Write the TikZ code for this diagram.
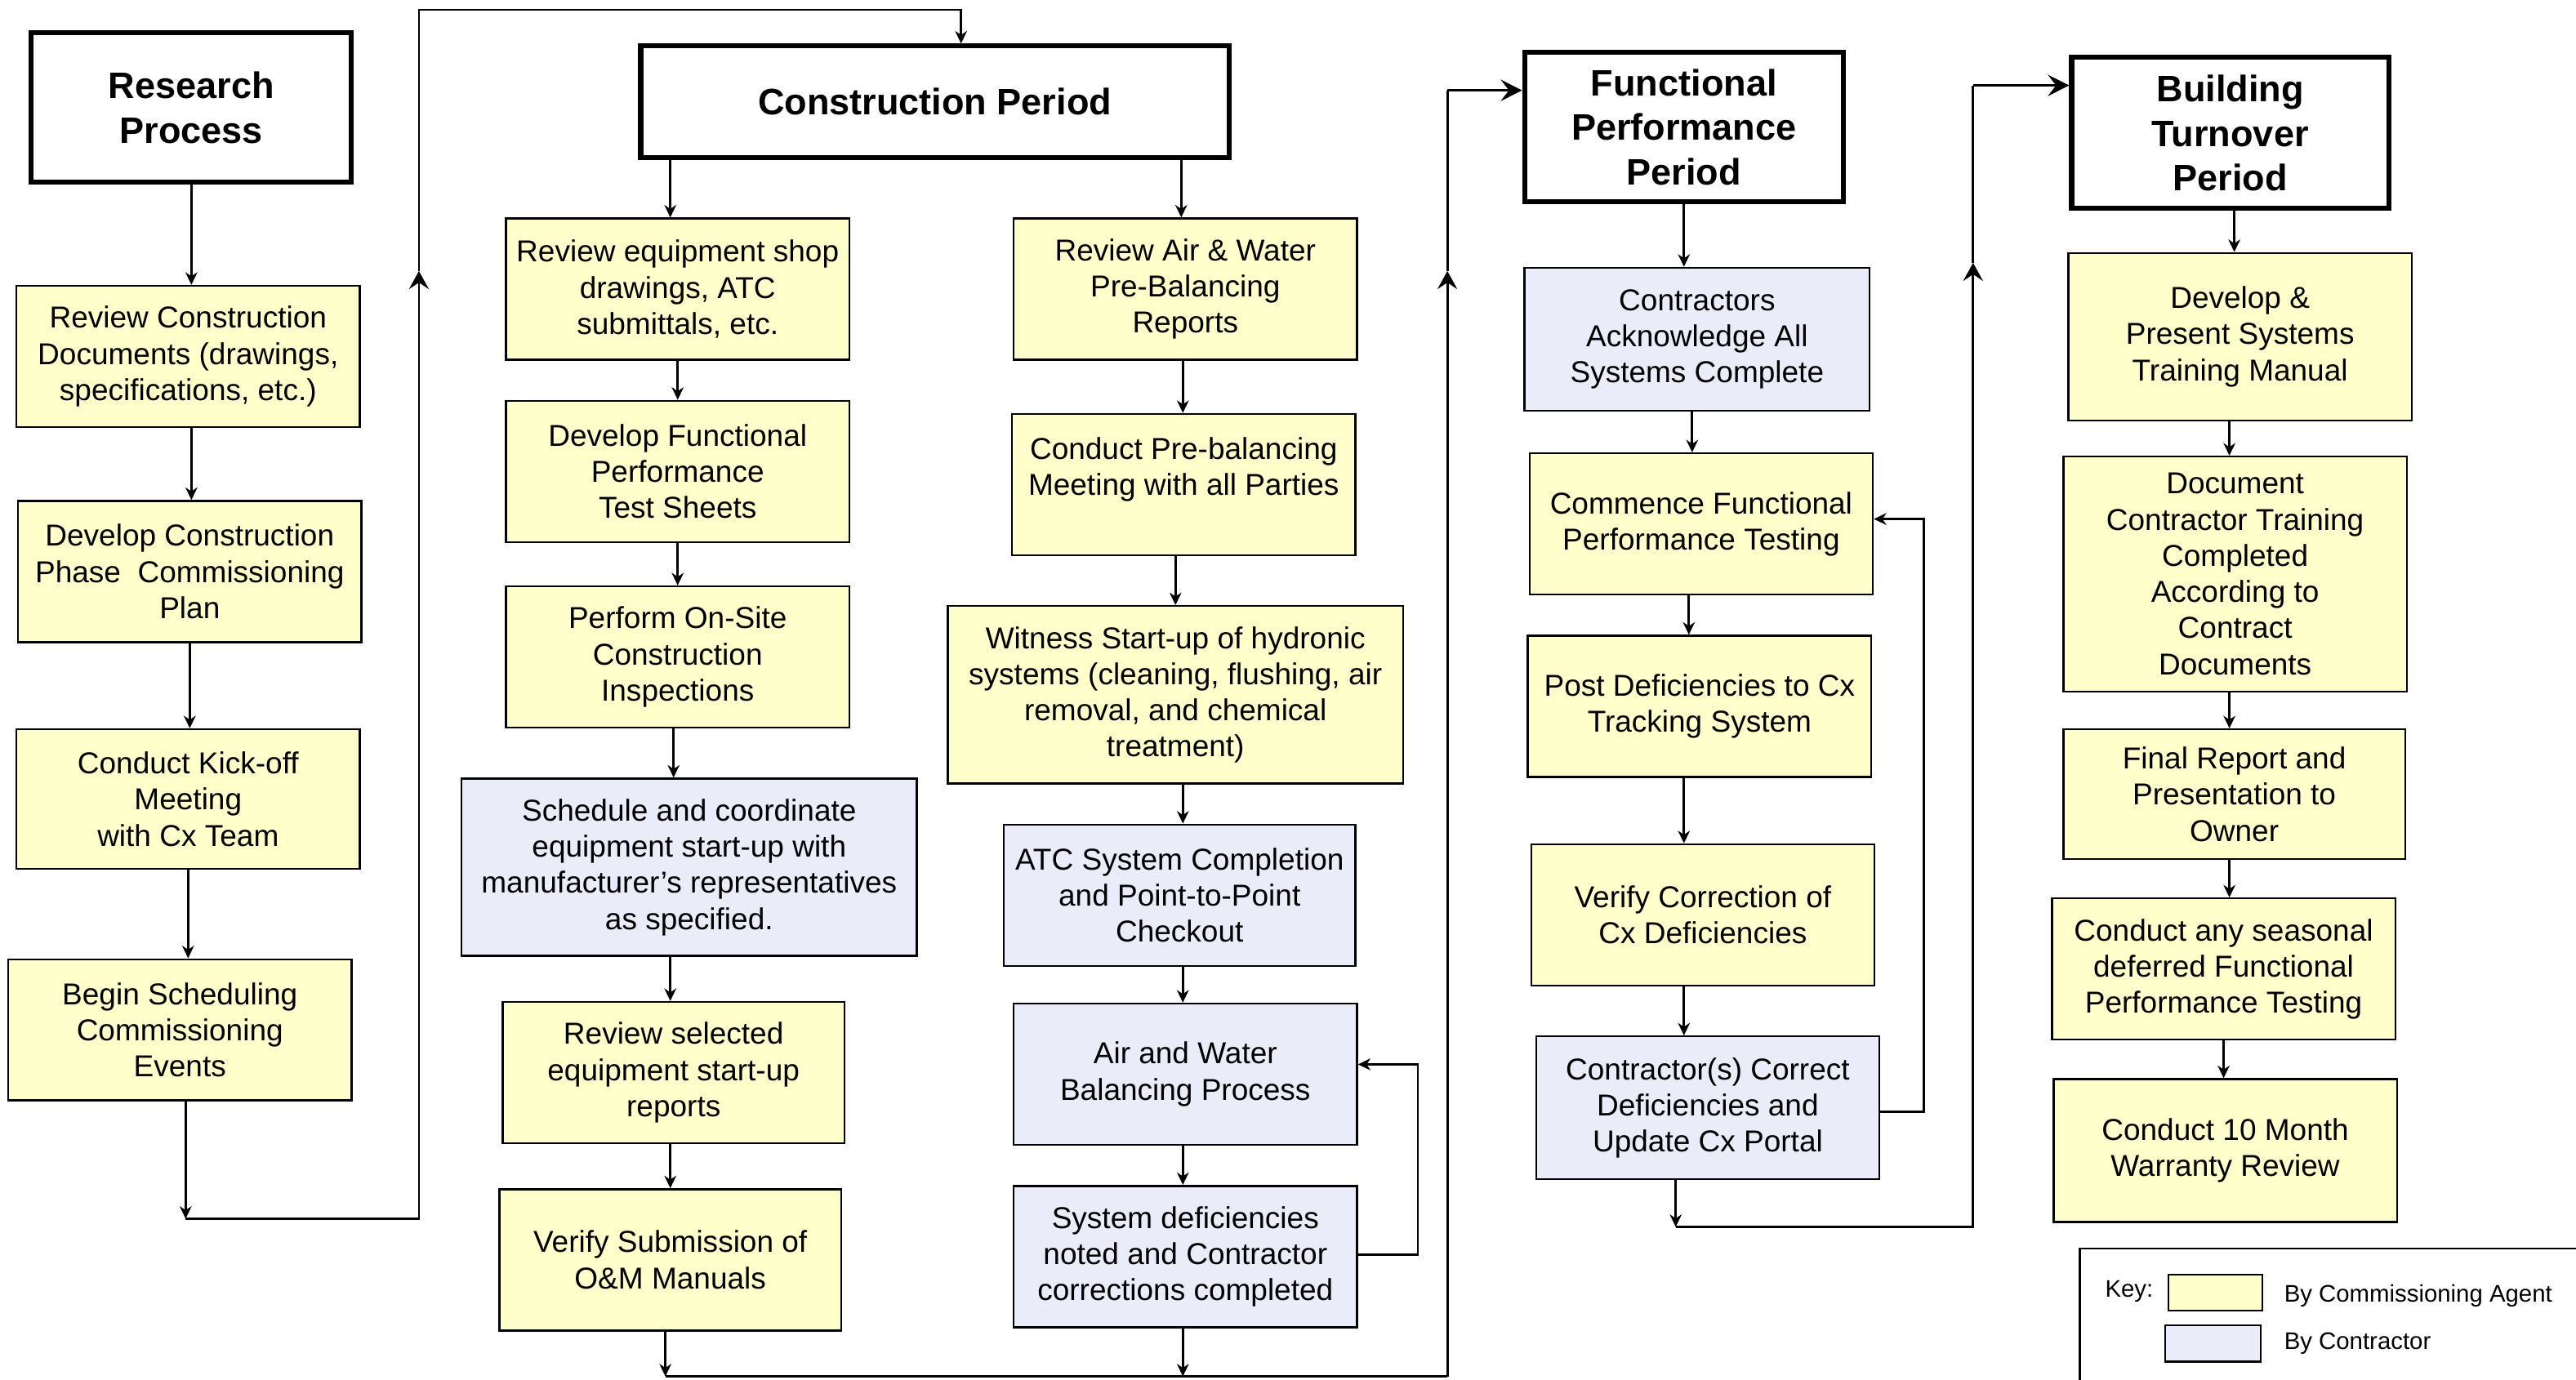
\documentclass[tikz,border=0pt]{standalone}
\usepackage{fontspec}
\setmainfont{Liberation Sans}
\usetikzlibrary{arrows.meta,calc}
\definecolor{cxy}{RGB}{255,255,204}
\definecolor{cxb}{RGB}{234,236,250}
\begin{document}
\begin{tikzpicture}[x=0.5pt,y=-0.5pt,
 base/.style={draw=black, line width=0.6pt, inner sep=0pt, align=center, font=\fontsize{9.2pt}{11pt}\selectfont},
 ca/.style={base, fill=cxy},
 co/.style={base, fill=cxb},
 hdr/.style={draw=black, line width=1.5pt, fill=white, inner sep=0pt, align=center, font=\fontsize{11.2pt}{13.5pt}\selectfont\bfseries},
 sz/.style 2 args={minimum width=#1*0.5pt, minimum height=#2*0.5pt},
 link/.style={line width=0.7pt},
 arr/.style={link, -{Stealth[length=3.8pt,width=3.6pt,inset=1.2pt]}},
 bigarr/.style={link, -{Stealth[length=5.5pt,width=6pt,inset=2pt]}},
 entarr/.style={line width=0.9pt, -{Stealth[length=6.5pt,width=6.5pt,inset=2.5pt]}},
 keytxt/.style={inner sep=0pt, anchor=west, font=\fontsize{7.3pt}{9pt}\selectfont},
]
\useasboundingbox (0,0) rectangle (1568,840);

% headers
\node[hdr, sz={195}{91}] (RP) at (116.5,65.5) {Research\\Process};
\node[hdr, sz={358}{68}] (CP) at (569,62) {Construction Period};
\node[hdr, sz={194}{91}] (FP) at (1025,77.5) {Functional\\Performance\\Period};
\node[hdr, sz={193}{92}] (BT) at (1357.5,81) {Building\\Turnover\\Period};

% research column
\node[ca, sz={209}{86}] (R1) at (114.5,217) {Review Construction\\Documents (drawings,\\specifications, etc.)};
\node[ca, sz={209}{86}] (R2) at (115.5,348) {Develop Construction\\Phase\ \ Commissioning\\Plan};
\node[ca, sz={209}{85}] (R3) at (114.5,486.5) {Conduct Kick-off\\Meeting\\with Cx Team};
\node[ca, sz={209}{86}] (R4) at (109.5,627) {Begin Scheduling\\Commissioning\\Events};

% construction left
\node[ca, sz={209}{86}] (CL1) at (412.5,176) {Review equipment shop\\drawings, ATC\\submittals, etc.};
\node[ca, sz={209}{86}] (CL2) at (412.5,287) {Develop Functional\\Performance\\Test Sheets};
\node[ca, sz={209}{86}] (CL3) at (412.5,400) {Perform On-Site\\Construction\\Inspections};
\node[co, sz={277}{108}] (CL4) at (419.5,528) {Schedule and coordinate\\equipment start-up with\\manufacturer’s representatives\\as specified.};
\node[ca, sz={208}{86}] (CL5) at (410,653) {Review selected\\equipment start-up\\reports};
\node[ca, sz={208}{86}] (CL6) at (408,767) {Verify Submission of\\O\&M Manuals};

% construction right
\node[ca, sz={209}{86}] (CR1) at (721.5,176) {Review Air \& Water\\Pre-Balancing\\Reports};
\node[ca, sz={209}{86}] (CR2) at (720.5,295) {Conduct Pre-balancing\\Meeting with all Parties\\\mbox{}};
\node[ca, sz={277}{108}] (CR3) at (715.5,423) {Witness Start-up of hydronic\\systems (cleaning, flushing, air\\removal, and chemical\\treatment)};
\node[co, sz={214}{86}] (CR4) at (718,545) {ATC System Completion\\and Point-to-Point\\Checkout};
\node[co, sz={209}{86}] (CR5) at (721.5,654) {Air and Water\\Balancing Process};
\node[co, sz={209}{86}] (CR6) at (721.5,765) {System deficiencies\\noted and Contractor\\corrections completed};

% functional performance
\node[co, sz={210}{87}] (F1) at (1033,206.5) {Contractors\\Acknowledge All\\Systems Complete};
\node[ca, sz={209}{86}] (F2) at (1035.5,319) {Commence Functional\\Performance Testing};
\node[ca, sz={209}{86}] (F3) at (1034.5,430) {Post Deficiencies to Cx\\Tracking System};
\node[ca, sz={209}{86}] (F4) at (1036.5,557) {Verify Correction of\\Cx Deficiencies};
\node[co, sz={209}{87}] (F5) at (1039.5,674.5) {Contractor(s) Correct\\Deficiencies and\\Update Cx Portal};

% building turnover
\node[ca, sz={209}{102}] (B1) at (1363.5,205) {Develop \&\\Present Systems\\Training Manual};
\node[ca, sz={209}{143}] (B2) at (1360.5,349.5) {Document\\Contractor Training\\Completed\\According to\\Contract\\Documents};
\node[ca, sz={208}{79}] (B3) at (1360,483.5) {Final Report and\\Presentation to\\Owner};
\node[ca, sz={209}{86}] (B4) at (1353.5,590) {Conduct any seasonal\\deferred Functional\\Performance Testing};
\node[ca, sz={209}{87}] (B5) at (1354.5,700.5) {Conduct 10 Month\\Warranty Review};

% key
\draw[line width=0.6pt] (1580,760) -- (1266,760) -- (1266,850);
\node[keytxt] (keyl) at (1281,786) {Key:};
\node[base, fill=cxy, sz={57}{22}] (ky) at (1348.5,787) {};
\node[base, fill=cxb, sz={58}{22}] (kb) at (1347,818) {};
\node[keytxt] (kyt) at (1390,789) {By Commissioning Agent};
\node[keytxt] (kbt) at (1390,818) {By Contractor};

% research column connectors
\draw[arr] (RP.south) -- (RP.south |- R1.north);
\draw[arr] ([xshift=1pt]R1.south) -- ([xshift=1pt]R1.south |- R2.north);
\draw[arr] (R2.south) -- (R2.south |- R3.north);
\draw[arr] (R3.south) -- (R3.south |- R4.north);
\coordinate (j1) at (113,742);
\coordinate (j2) at (255,742);
\coordinate (j3) at (255,165);
\coordinate (j4) at (255,6);
\coordinate (j5) at (585,6);
\draw[arr] (R4.south -| j1) -- (j1);
\draw[bigarr] (j1) -- (j2) -- (j3);
\draw[arr] (j3) -- (j4) -- (j5) -- (j5 |- CP.north);

% construction connectors
\draw[arr] ([xshift=-2.25pt]CL1.north |- CP.south) -- ([xshift=-2.25pt]CL1.north);
\draw[arr] (CL1.south) -- (CL1.south |- CL2.north);
\draw[arr] (CL2.south) -- (CL2.south |- CL3.north);
\draw[arr] ([xshift=-1.25pt]CL3.south) -- ([xshift=-1.25pt]CL3.south |- CL4.north);
\draw[arr] ([xshift=-1pt]CL5.north |- CL4.south) -- ([xshift=-1pt]CL5.north);
\draw[arr] ([xshift=-1pt]CL5.south) -- ([xshift=-1pt]CL5.south |- CL6.north);
\coordinate (b1) at (405,838);
\coordinate (b2) at (720,838);
\coordinate (b3) at (881,838);
\coordinate (b4) at (881,165);
\coordinate (b5) at (881,55);
\draw[arr] (CL6.south -| b1) -- (b1);

\draw[arr] ([xshift=-1.25pt]CR1.north |- CP.south) -- ([xshift=-1.25pt]CR1.north);
\draw[arr] ([xshift=-0.75pt]CR1.south) -- ([xshift=-0.75pt]CR1.south |- CR2.north);
\draw[arr] (CR3.north |- CR2.south) -- (CR3.north);
\draw[arr] ([xshift=1pt]CR4.north |- CR3.south) -- ([xshift=1pt]CR4.north);
\draw[arr] ([xshift=-0.75pt]CR5.north |- CR4.south) -- ([xshift=-0.75pt]CR5.north);
\draw[arr] ([xshift=-0.75pt]CR5.south) -- ([xshift=-0.75pt]CR5.south |- CR6.north);
\draw[arr] (CR6.south -| b2) -- (b2);
\coordinate (fb1) at (863,764);
\coordinate (fb2) at (863,648);
\draw[arr] (CR6.east |- fb1) -- (fb1) -- (fb2) -- (fb2 -| CR5.east);

\draw[link] (b1) -- (b3);
\draw[bigarr] (b3) -- (b4);
\draw[link] (b4) -- (b5);
\draw[entarr] (b5) -- (b5 -| FP.west);

% functional performance connectors
\draw[arr] (FP.south) -- (FP.south |- F1.north);
\draw[arr] ([xshift=-1.5pt]F1.south) -- ([xshift=-1.5pt]F1.south |- F2.north);
\draw[arr] ([xshift=-3.75pt]F2.south) -- ([xshift=-3.75pt]F2.south |- F3.north);
\draw[arr] ([xshift=-4.75pt]F3.south) -- ([xshift=-4.75pt]F3.south |- F4.north);
\draw[arr] ([xshift=-5.75pt]F4.south) -- ([xshift=-5.75pt]F4.south |- F5.north);
\coordinate (g1) at (1171,677);
\coordinate (g2) at (1171,316);
\draw[arr] (F5.east |- g1) -- (g1) -- (g2) -- (g2 -| F2.east);
\coordinate (h1) at (1020,747);
\coordinate (h2) at (1201,747);
\coordinate (h3) at (1201,160);
\coordinate (h4) at (1201,52);
\draw[arr] (F5.south -| h1) -- (h1);
\draw[bigarr] (h1) -- (h2) -- (h3);
\draw[link] (h3) -- (h4);
\draw[entarr] (h4) -- (h4 -| BT.west);

% building turnover connectors
\draw[arr] ([xshift=1.25pt]BT.south) -- ([xshift=1.25pt]BT.south |- B1.north);
\draw[arr] ([xshift=-3.25pt]B1.south) -- ([xshift=-3.25pt]B1.south |- B2.north);
\draw[arr] ([xshift=-1.75pt]B2.south) -- ([xshift=-1.75pt]B2.south |- B3.north);
\draw[arr] ([xshift=-1.5pt]B3.south) -- ([xshift=-1.5pt]B3.south |- B4.north);
\draw[arr] (B4.south) -- (B4.south |- B5.north);
\end{tikzpicture}
\end{document}
